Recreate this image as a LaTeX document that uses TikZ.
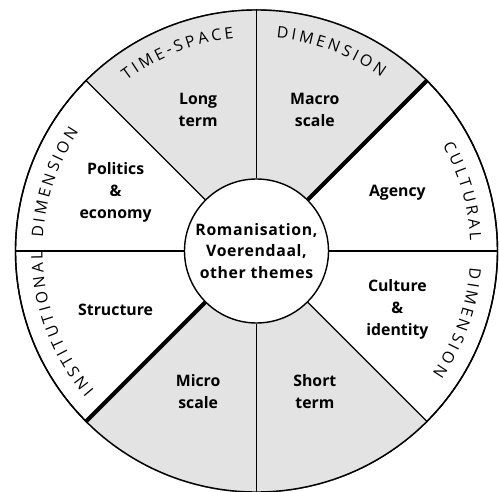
\documentclass[tikz,border=0pt]{standalone}
\usepackage{fontspec}
\setmainfont{Open Sans}
\newfontfamily\bandfont{Open Sans}
\usetikzlibrary{decorations.text}

\definecolor{sectorgray}{HTML}{E3E3E3}

\newcommand{\Rout}{4.82}
\newcommand{\Rtxt}{4.28}

\begin{document}
\begin{tikzpicture}[
    spoke/.style={line width=0.7pt},
    axis spoke/.style={line width=2.3pt},
    theme/.style={font=\bfseries\fontsize{9}{12.5}\selectfont, align=center},
    hub/.style={circle, draw, line width=0.8pt, fill=white, minimum size=2.88cm, inner sep=0pt},
    band/.style={decoration={text effects along path, text={#1}, text align=center,
        text effects/.cd, text along path,
        characters={font=\bandfont\fontsize{9}{10}\selectfont, inner xsep=0.9pt}}, decorate}
]
    \useasboundingbox (-5.13,-4.82) rectangle (4.85,5.02);

    \node[circle, draw, line width=0.8pt, minimum size=9.64cm, inner sep=0pt] (wheel) at (0,0) {};

    % grey time-space sectors
    \fill[sectorgray] (0,0) -- (wheel.45) arc (45:135:\Rout) -- cycle;
    \fill[sectorgray] (0,0) -- (wheel.225) arc (225:315:\Rout) -- cycle;
    \draw[line width=0.8pt] (0,0) circle (\Rout);

    \node[hub] (hub) at (0,0) {};

    % spokes, the macro/micro axis is the heavy one
    \foreach \a in {0,90,135,180,270,315}
        \draw[spoke] (hub.\a) -- (wheel.\a);
    \foreach \a in {45,225}
        \draw[axis spoke] (hub.\a) -- (wheel.\a);

    \node[font=\bfseries\addfontfeatures{LetterSpace=4}\fontsize{9}{12}\selectfont, align=center]
        (centre) at (hub) {Romanisation,\\Voerendaal,\\other themes};

    \node[theme] (longterm)  at (112.5:3.05) {Long\\term};
    \node[theme] (macro)     at (67.5:3.05)  {Macro\\scale};
    \node[theme] (agency)    at (22.5:3.05)  {Agency};
    \node[theme] (culture)   at (-22.5:3.05) {Culture\\\&\\identity};
    \node[theme] (shortterm) at (-67.5:3.05) {Short\\term};
    \node[theme] (micro)     at (-112.5:3.05) {Micro\\scale};
    \node[theme] (structure) at (-157.5:3.05) {Structure};
    \node[theme] (politics)  at (157.5:3.05) {Politics\\\&\\economy};

    % dimension names round the rim, one word per arc
    \path[band={TIME-SPACE}]    (146.7:\Rtxt) arc (146.7:76.7:\Rtxt);
    \path[band={DIMENSION}]     (104.5:\Rtxt) arc (104.5:34.5:\Rtxt);
    \path[band={CULTURAL}]      (51.2:\Rtxt)  arc (51.2:-18.8:\Rtxt);
    \path[band={DIMENSION}]     (15.4:\Rtxt)  arc (15.4:-54.6:\Rtxt);
    \path[band={DIMENSION}]     (196.3:\Rtxt) arc (196.3:126.3:\Rtxt);
    \path[band={INSTITUTIONAL}] (235.4:\Rtxt) arc (235.4:165.4:\Rtxt);
\end{tikzpicture}
\end{document}
